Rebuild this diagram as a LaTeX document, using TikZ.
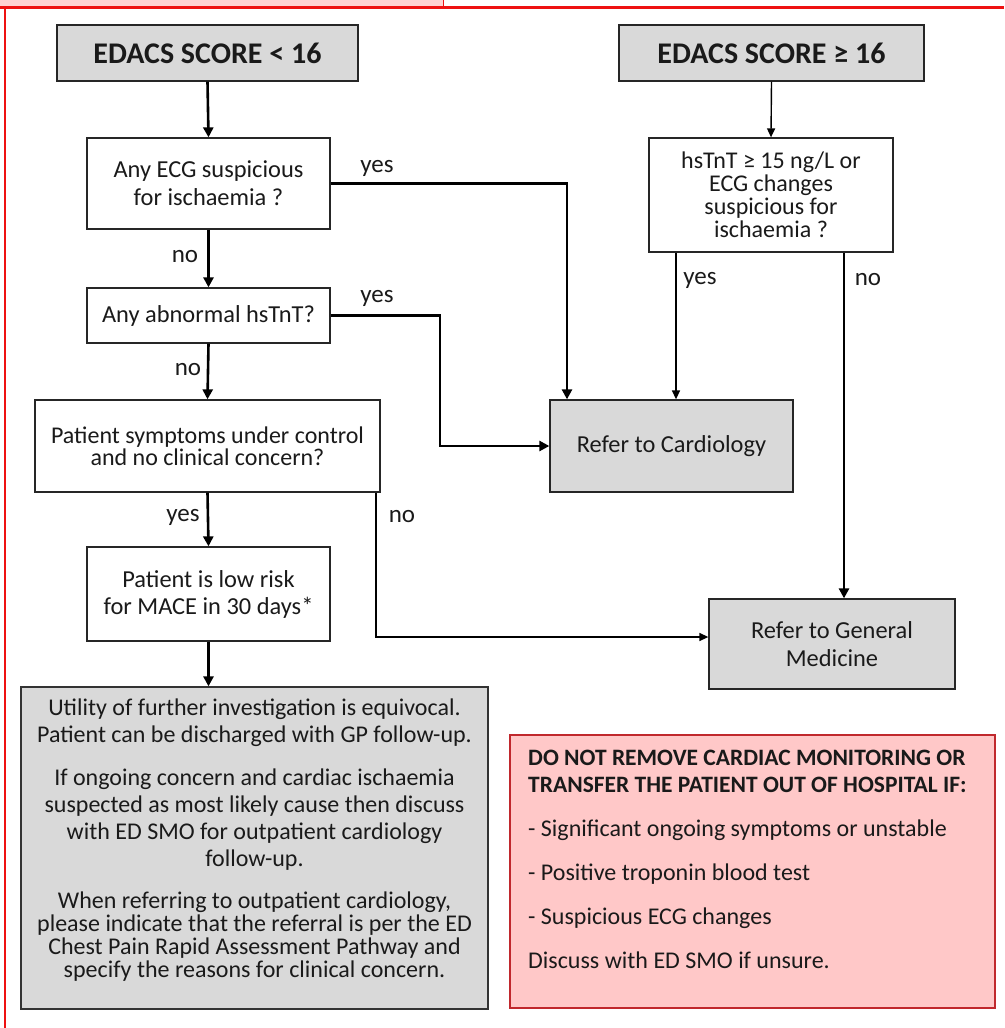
\documentclass[tikz,border=0pt]{standalone}
\usepackage{fontspec}
\setmainfont{Carlito}
\usetikzlibrary{arrows.meta,calc}
\definecolor{boxgray}{HTML}{D9D9D9}
\definecolor{warnpink}{HTML}{FFC8C8}
\definecolor{warnred}{HTML}{C0282D}
\definecolor{framered}{HTML}{EE1111}
\definecolor{strippink}{HTML}{FFD2D2}
\definecolor{txt}{HTML}{1A1A1A}
\tikzset{
  every node/.style={text=txt},
  basebox/.style={draw=black!85, line width=1.3pt, inner sep=0pt, align=center},
  qbox/.style={basebox, fill=white},
  gbox/.style={basebox, fill=boxgray},
  bodyfont/.style={font=\fontsize{24}{27}\selectfont},
  headfont/.style={font=\bfseries\fontsize{30}{34}\selectfont},
  lbl/.style={font=\fontsize{25}{27}\selectfont, inner sep=0pt},
  thickarrow/.style={line width=2.6pt, -{Triangle[length=10pt,width=10pt]}},
  thinarrow/.style={line width=1.4pt, -{Triangle[length=9pt,width=8pt]}},
}
\begin{document}
\begin{tikzpicture}[x=1pt,y=-1pt]
\useasboundingbox (0,0) rectangle (1004,1028);
% frame
\fill[strippink] (0,0) rectangle (443,7);
\draw[framered, line width=1pt] (443,0) -- (443,7);
\draw[framered, line width=3pt] (0,7.5) -- (1004,7.5);
\draw[framered, line width=2pt] (5,7) -- (5,1028);
% nodes
\node[gbox, headfont, minimum width=301pt, minimum height=56pt] (E1) at (207.5,53) {EDACS SCORE < 16};
\node[gbox, headfont, minimum width=305pt, minimum height=56pt] (E2) at (771.5,53) {EDACS SCORE ≥ 16};
\node[qbox, font=\fontsize{24.4}{28}\selectfont, minimum width=243pt, minimum height=91pt] (Q1) at (208.5,183.5) {Any ECG suspicious\\for ischaemia ?};
\node[qbox, font=\fontsize{24.4}{28}\selectfont, minimum width=243pt, minimum height=55pt] (Q2) at (208.5,315.5) {Any abnormal hsTnT?};
\node[qbox, font=\fontsize{24}{22}\selectfont, minimum width=345pt, minimum height=92pt] (Q3) at (207.5,446) {Patient symptoms under control\\and no clinical concern?};
\node[qbox, font=\fontsize{24}{23}\selectfont, minimum width=244pt, minimum height=114pt] (Q4) at (771,195) {hsTnT ≥ 15 ng/L or\\ECG changes\\suspicious for\\ischaemia ?};
\node[gbox, font=\fontsize{24.4}{28}\selectfont, minimum width=243pt, minimum height=92pt] (Card) at (671.5,446) {Refer to Cardiology};
\node[gbox, font=\fontsize{24.4}{28}\selectfont, minimum width=246pt, minimum height=90pt] (GM) at (832,644) {Refer to General\\Medicine};
\node[qbox, font=\fontsize{24.4}{27}\selectfont, minimum width=243pt, minimum height=94pt] (Q5) at (208.5,594) {Patient is low risk\\for MACE in 30 days*};
\node[gbox, draw=black!80, minimum width=467pt, minimum height=322pt] (Info) at (254.5,848) {};
\node[bodyfont, align=center, inner sep=0pt] (InfoText) at (254.5,840) {%
Utility of further investigation is equivocal.\\
Patient can be discharged with GP follow-up.\\[16pt]
If ongoing concern and cardiac ischaemia\\
suspected as most likely cause then discuss\\
with ED SMO for outpatient cardiology\\
follow-up.\\[15pt]
When referring to outpatient cardiology,\\[-4pt]
please indicate that the referral is per the ED\\[-4pt]
Chest Pain Rapid Assessment Pathway and\\[-4pt]
specify the reasons for clinical concern.};
\node[draw=warnred, fill=warnpink, line width=2.5pt, minimum width=485pt, minimum height=273pt, inner sep=0pt] (Warn) at (752.5,871.5) {};
\node[anchor=north west, align=left, inner sep=0pt, font=\fontsize{24}{27}\selectfont] (WarnText) at (528,750) {%
{\bfseries\fontsize{23.5}{27}\selectfont DO NOT REMOVE CARDIAC MONITORING OR}\\
{\bfseries\fontsize{23.5}{27}\selectfont TRANSFER THE PATIENT OUT OF HOSPITAL IF:}\\[17pt]
- Significant ongoing symptoms or unstable\\[17pt]
- Positive troponin blood test\\[17pt]
- Suspicious ECG changes\\[17pt]
Discuss with ED SMO if unsure.};
% helper coordinates
\coordinate (xA) at (567,0);
\coordinate (xB) at (440,0);
\coordinate (xY) at (676,0);
\coordinate (xN) at (844,0);
\coordinate (xQ) at (376,0);
% connectors
\draw[thickarrow] (E1.south) -- (Q1.north);
\draw[thinarrow] (E2.south) -- (Q4.north);
\draw[thickarrow] (Q1.south) -- (Q2.north);
\draw[thickarrow] (Q2.south) -- (Q3.north);
\draw[thickarrow] (Q3.south) -- (Q5.north);
\draw[thickarrow] (Q5.south) -- (Q5.south |- Info.north);
\draw[thickarrow] (Q1.east) -| (Card.north -| xA);
\draw[thickarrow] (Q2.east) -| (xB |- Card.west) -- (Card.west);
\draw[thinarrow] (Q4.south -| xY) -- (Card.north -| xY);
\draw[thickarrow] (Q4.south -| xN) -- (GM.north -| xN);
\draw[thinarrow] (Q3.south -| xQ) |- ($(GM.west)+(0,-7)$);
% labels
\node[lbl] (l1) at (377,168) {yes};
\node[lbl] (l2) at (185,257) {no};
\node[lbl] (l3) at (377,298) {yes};
\node[lbl] (l4) at (188,370) {no};
\node[lbl] (l5) at (700,280) {yes};
\node[lbl] (l6) at (868,280) {no};
\node[lbl] (l7) at (183,517) {yes};
\node[lbl] (l8) at (402,517) {no};
\end{tikzpicture}
\end{document}
